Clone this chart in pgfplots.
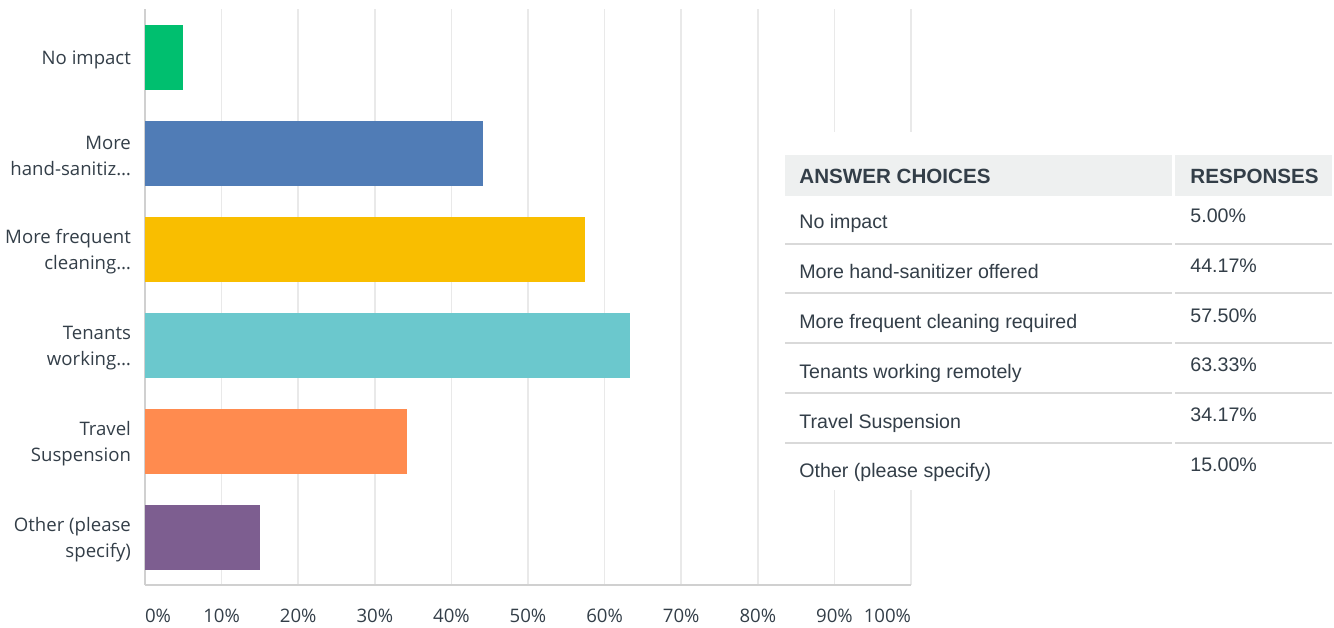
\documentclass[border=0pt]{standalone}
\usepackage{pgfplots}
\pgfplotsset{compat=1.18}
\usepackage{fontspec}
\setmainfont{Open Sans}
\newfontfamily\tablefont{Liberation Sans}
\definecolor{txt}{HTML}{333E48}
\definecolor{cgreen}{HTML}{00BF6F}
\definecolor{cblue}{HTML}{507CB6}
\definecolor{cyellow}{HTML}{F9BE00}
\definecolor{cteal}{HTML}{6BC8CD}
\definecolor{corange}{HTML}{FF8B4F}
\definecolor{cpurple}{HTML}{7D5E90}
\definecolor{gridc}{HTML}{E9E9E9}
\definecolor{axisc}{HTML}{D0D0D0}
\definecolor{headbg}{HTML}{EEF0F0}
\definecolor{sepc}{HTML}{D9D9D9}
\begin{document}
\begin{tikzpicture}
\useasboundingbox (0,0) rectangle (667pt,313.5pt);
\begin{axis}[
  at={(72.5pt,21pt)}, anchor=south west,
  scale only axis, width=383pt, height=288pt,
  xbar, bar width=0.677,
  xmin=0, xmax=100, ymin=-0.5, ymax=5.5, y dir=reverse,
  axis x line*=bottom, axis y line*=left,
  axis line style={axisc, line width=1pt, -},
  xmajorgrids, grid style={gridc, line width=0.8pt},
  xtick={0,10,...,100},
  xticklabels={{\makebox[0pt][l]{0\%}},{10\%},{20\%},{30\%},{40\%},{50\%},{60\%},{70\%},{80\%},{90\%},{\makebox[0pt][r]{100\%}}},
  major tick length=0pt,
  tick label style={font=\fontsize{9.3}{13}\selectfont, text=txt},
  xticklabel style={yshift=-8.5pt},
  ytick={0,1,2,3,4,5},
  yticklabels={{No impact},{More\\hand-sanitiz…},{More frequent\\cleaning…},{Tenants\\working…},{Travel\\Suspension},{Other (please\\specify)}},
  yticklabel style={align=right, xshift=-3.5pt, yshift=-1.5pt},
  /pgf/number format/assume math mode=true,
]
\addplot[fill=cgreen, draw=none, bar shift=0pt] coordinates {(5.00,0)};
\addplot[fill=cblue, draw=none, bar shift=0pt] coordinates {(44.17,1)};
\addplot[fill=cyellow, draw=none, bar shift=0pt] coordinates {(57.50,2)};
\addplot[fill=cteal, draw=none, bar shift=0pt] coordinates {(63.33,3)};
\addplot[fill=corange, draw=none, bar shift=0pt] coordinates {(34.17,4)};
\addplot[fill=cpurple, draw=none, bar shift=0pt] coordinates {(15.00,5)};
\end{axis}
% table
\fill[white] (392.5pt,68.5pt) rectangle (667pt,247.5pt);
\fill[headbg] (392.5pt,215.5pt) rectangle (586pt,236pt);
\fill[headbg] (587.5pt,215.5pt) rectangle (666pt,236pt);
\foreach \y in {191.5,167,142,117,92} {
  \draw[sepc, line width=1pt] (392.5pt,\y pt) -- (586pt,\y pt);
  \draw[sepc, line width=1pt] (587.5pt,\y pt) -- (666pt,\y pt);
}
\begin{scope}[every node/.style={inner sep=0pt, text=txt, anchor=base west}]
\node[font=\tablefont\bfseries\fontsize{10.3}{12}\selectfont] at (399.5pt,221.8pt) {ANSWER CHOICES};
\node[font=\tablefont\bfseries\fontsize{10.3}{12}\selectfont] at (595pt,221.8pt) {RESPONSES};
\foreach \lab/\val/\k in {{No impact}/{5.00\%}/0,{More hand-sanitizer offered}/{44.17\%}/1,{More frequent cleaning required}/{57.50\%}/2,{Tenants working remotely}/{63.33\%}/3,{Travel Suspension}/{34.17\%}/4,{Other (please specify)}/{15.00\%}/5} {
  \node[font=\tablefont\fontsize{9.8}{12}\selectfont] at (399.5pt,{199pt-24.9pt*\k}) {\lab};
  \node[font=\tablefont\fontsize{9.8}{12}\selectfont] at (595pt,{202.2pt-24.9pt*\k}) {\val};
}
\end{scope}
\end{tikzpicture}
\end{document}
